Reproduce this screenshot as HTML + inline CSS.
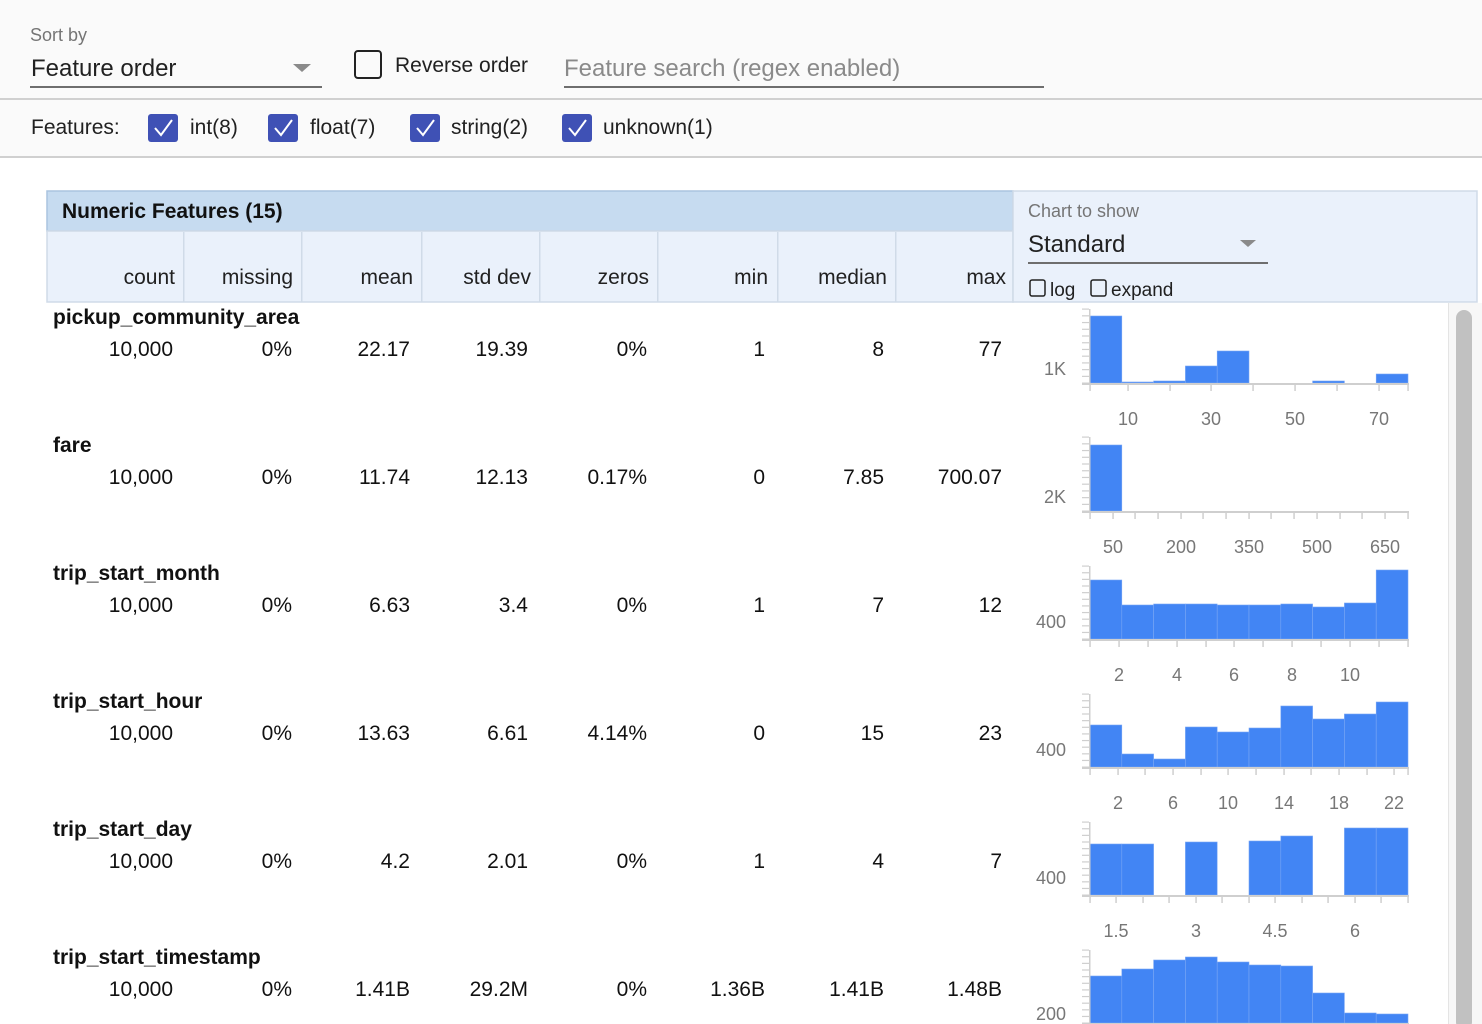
<!DOCTYPE html>
<html><head><meta charset="utf-8"><style>
body{margin:0;width:1482px;height:1024px;overflow:hidden;background:#fff;font-family:"Liberation Sans",sans-serif;}
svg{position:absolute;left:0;top:0}
</style></head><body>
<svg id="s" width="1482" height="1024" xmlns="http://www.w3.org/2000/svg" font-family="Liberation Sans, sans-serif">
<rect x="0" y="0" width="1482" height="98" fill="#fafafa"/>
<rect x="0" y="98" width="1482" height="2" fill="#d0d0d0"/>
<rect x="0" y="100" width="1482" height="56" fill="#fafafa"/>
<rect x="0" y="156" width="1482" height="2" fill="#d0d0d0"/>
<text x="30" y="41" font-size="18" fill="#757575">Sort by</text>
<text x="31" y="76" font-size="24" fill="#212121">Feature order</text>
<path d="M293 64 L311 64 L302 72 Z" fill="#8a8a8a"/>
<rect x="30" y="86" width="292" height="2" fill="#6e6e6e"/>
<rect x="355" y="51" width="26" height="27" rx="3" fill="none" stroke="#222" stroke-width="2"/>
<text x="395" y="72" font-size="21" fill="#212121">Reverse order</text>
<text x="564" y="76" font-size="24" fill="#8a8a8a">Feature search (regex enabled)</text>
<rect x="564" y="86" width="480" height="2" fill="#6e6e6e"/>
<text x="31" y="134" font-size="21" fill="#212121">Features:</text>
<g id="cbs"></g>
<text x="190" y="134" font-size="21" fill="#212121">int(8)</text>
<text x="310" y="134" font-size="21" fill="#212121">float(7)</text>
<text x="451" y="134" font-size="21" fill="#212121">string(2)</text>
<text x="603" y="134" font-size="21" fill="#212121">unknown(1)</text>
<rect x="47" y="191" width="966" height="40" fill="#c6dbf0" stroke="#aac4df" stroke-width="1.5"/>
<text x="62" y="218" font-size="21" font-weight="bold" fill="#111">Numeric Features (15)</text>
<rect x="47" y="231" width="966" height="71" fill="#eaf1fb" stroke="#d0dbe8" stroke-width="1.5"/>
<rect x="1013" y="191" width="464" height="111" fill="#eaf1fb" stroke="#d0dbe8" stroke-width="1.5"/>
<text x="1028" y="217" font-size="18" fill="#757575">Chart to show</text>
<text x="1028" y="252" font-size="24" fill="#212121">Standard</text>
<path d="M1240 240 L1256 240 L1248 247 Z" fill="#8a8a8a"/>
<rect x="1028" y="262" width="240" height="2" fill="#6e6e6e"/>
<rect x="1030" y="280" width="15" height="16" rx="2" fill="none" stroke="#222" stroke-width="1.5"/>
<text x="1050" y="296" font-size="19" fill="#212121">log</text>
<rect x="1091" y="280" width="15" height="16" rx="2" fill="none" stroke="#222" stroke-width="1.5"/>
<text x="1111" y="296" font-size="19" fill="#212121">expand</text>
<g id="hdr" font-size="21" fill="#212121" text-anchor="end"></g>
<g id="rows"></g>
<g id="charts"></g>
<rect x="1448" y="303" width="34" height="721" fill="#f7f7f7"/>
<rect x="1448" y="303" width="1" height="721" fill="#e4e4e4"/>
<rect x="1456" y="310" width="16" height="720" rx="8" fill="#c1c1c1"/>
</svg>
<script>
var NS="http://www.w3.org/2000/svg";
function el(p,t,a,txt){var e=document.createElementNS(NS,t);for(var k in a)e.setAttribute(k,a[k]);if(txt!==undefined)e.textContent=txt;document.getElementById(p).appendChild(e);return e;}
[148,268,410,562].forEach(function(x){el('cbs','rect',{x:x,y:114,width:30,height:28,rx:3,fill:'#3f51b5'});el('cbs','path',{d:'M'+(x+7)+' 128 L'+(x+13)+' 135 L'+(x+24)+' 120',fill:'none',stroke:'#fff','stroke-width':2});});
[183,301,421,539,657,777,895].forEach(function(x){el('hdr','rect',{x:x,y:232,width:1.5,height:70,fill:'#d0dbe8'});});
var hx=[175,293,413,531,649,768,887,1006],hn=['count','missing','mean','std dev','zeros','min','median','max'];
hn.forEach(function(t,i){el('hdr','text',{x:hx[i],y:284},t);});
var names=['pickup_community_area','fare','trip_start_month','trip_start_hour','trip_start_day','trip_start_timestamp'];
var vals=[['10,000','0%','22.17','19.39','0%','1','8','77'],['10,000','0%','11.74','12.13','0.17%','0','7.85','700.07'],['10,000','0%','6.63','3.4','0%','1','7','12'],['10,000','0%','13.63','6.61','4.14%','0','15','23'],['10,000','0%','4.2','2.01','0%','1','4','7'],['10,000','0%','1.41B','29.2M','0%','1.36B','1.41B','1.48B']];
var vx=[173,292,410,528,647,765,884,1002];
names.forEach(function(n,r){var y=324+128*r;el('rows','text',{x:53,y:y,'font-size':21,'font-weight':'bold',fill:'#111'},n);
vals[r].forEach(function(v,i){el('rows','text',{x:vx[i],y:y+32,'font-size':21,fill:'#111','text-anchor':'end'},v);});});
var charts=[
{top:309,base:383,bars:[316,382,381,366,351,383,383,381,383,374],yl:'1K',yly:369,ticks:[1090,1128,1170,1211,1253,1295,1337,1379,1408],lab:[[1128,'10'],[1211,'30'],[1295,'50'],[1379,'70']],ly:419},
{top:437,base:511,bars:[445,511,511,511,511,511,511,511,511,511],yl:'2K',yly:497,ticks:[1090,1113,1135,1158,1181,1203,1226,1249,1271,1294,1317,1340,1362,1385,1408],lab:[[1113,'50'],[1181,'200'],[1249,'350'],[1317,'500'],[1385,'650']],ly:547},
{top:566,base:639,bars:[580,605,604,604,605,605,604,607,603,570],yl:'400',yly:622,ticks:[1090,1119,1148,1177,1206,1234,1263,1292,1321,1350,1379,1408],lab:[[1119,'2'],[1177,'4'],[1234,'6'],[1292,'8'],[1350,'10']],ly:675},
{top:694,base:767,bars:[725,754,759,727,732,728,706,719,714,702],yl:'400',yly:750,ticks:[1090,1118,1145,1173,1201,1228,1256,1284,1311,1339,1367,1394,1408],lab:[[1118,'2'],[1173,'6'],[1228,'10'],[1284,'14'],[1339,'18'],[1394,'22']],ly:803},
{top:822,base:895,bars:[844,844,895,842,895,841,836,895,828,828],yl:'400',yly:878,ticks:[1090,1116,1143,1169,1196,1222,1249,1275,1302,1328,1355,1381,1408],lab:[[1116,'1.5'],[1196,'3'],[1275,'4.5'],[1355,'6']],ly:931},
{top:950,base:1023,bars:[976,969,960,957,962,965,966,993,1013,1014],yl:'200',yly:1014,ticks:[],lab:[],ly:0}];
charts.forEach(function(c){
 var w=31.8;
 c.bars.forEach(function(t,i){if(c.base-t>0.5)el('charts','rect',{x:1090+i*w,y:t,width:w,height:c.base-t,fill:'#4285f4',stroke:'#7aa7f5','stroke-width':0.6});});
 el('charts','rect',{x:1089,y:c.top,width:1.5,height:c.base-c.top,fill:'#cfcfcf'});
 for(var y=c.base;y>=c.top-0.5;y-=(c.base-c.top)/11)el('charts','rect',{x:1082,y:y-0.5,width:7,height:1.2,fill:'#cfcfcf'});
 el('charts','rect',{x:1082,y:c.base,width:327,height:2,fill:'#cfcfcf'});
 c.ticks.forEach(function(x){el('charts','rect',{x:x-0.7,y:c.base+1,width:1.5,height:7,fill:'#cfcfcf'});});
 el('charts','text',{x:1066,y:c.yly+6,'font-size':18,fill:'#777','text-anchor':'end'},c.yl);
 c.lab.forEach(function(l){el('charts','text',{x:l[0],y:c.ly+6,'font-size':18,fill:'#777','text-anchor':'middle'},l[1]);});
});
</script>
</body></html>
